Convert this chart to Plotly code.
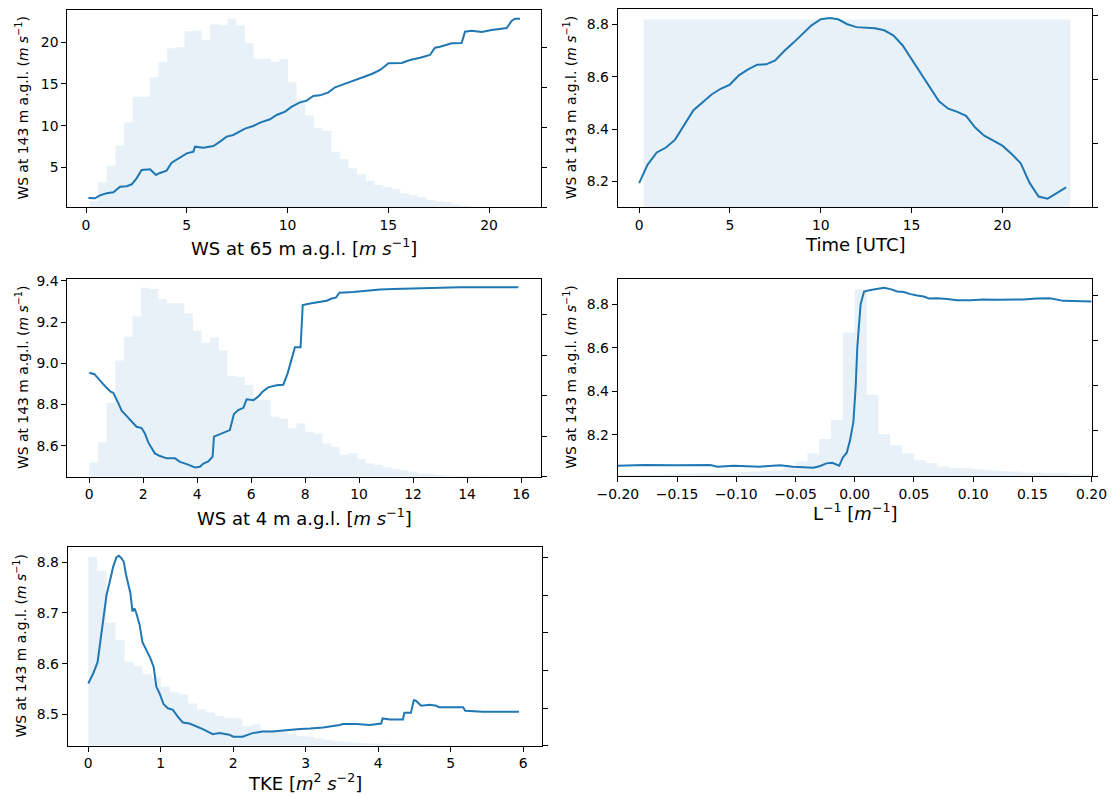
import numpy as np
import plotly.graph_objects as go

# ---------------- Panel 1: WS at 65 m a.g.l. ----------------
ws65_x = [0.12, 0.45, 0.69, 1.03, 1.36, 1.69, 2.02, 2.27, 2.51, 2.76, 3.18, 3.47, 3.67, 4.0, 4.25,
          4.66, 5.0, 5.33, 5.41, 5.82, 6.32, 6.65, 6.98, 7.31, 7.64, 7.89, 8.3, 8.64, 9.13, 9.46,
          9.88, 10.21, 10.62, 10.95, 11.28, 11.61, 12.03, 12.36, 12.77, 13.27, 13.68, 14.18, 14.6,
          15.01, 15.67, 16.08, 16.58, 17.07, 17.32, 17.57, 18.15, 18.64, 18.81, 19.14, 19.64,
          20.13, 20.88, 21.12, 21.29, 21.54]
ws65_pd = [1.32, 1.28, 1.64, 1.88, 2.0, 2.68, 2.72, 2.96, 3.68, 4.68, 4.76, 4.08, 4.32, 4.6, 5.56,
           6.12, 6.68, 6.88, 7.48, 7.36, 7.56, 8.08, 8.68, 8.88, 9.28, 9.64, 9.96, 10.36, 10.76, 11.28,
           11.68, 12.28, 12.8, 13.0, 13.56, 13.64, 14.0, 14.6, 14.96, 15.4, 15.68, 16.2, 16.68,
           17.48, 17.52, 17.88, 18.16, 18.48, 19.36, 19.48, 19.88, 19.92, 21.28, 21.4, 21.24,
           21.48, 21.72, 22.56, 22.84, 22.84]
ws65_hist_start = 0.17
ws65_hist_width = 0.4286
ws65_hist = [0.16, 0.63, 1.04, 1.54, 2.13, 2.77, 2.77, 3.25, 3.64, 3.98, 4.01, 4.41, 4.42, 4.18, 4.58,
             4.56, 4.72, 4.55, 4.11, 3.72, 3.72, 3.64, 3.71, 3.13, 2.69, 2.30, 1.98, 1.91, 1.39, 1.21,
             0.98, 0.83, 0.66, 0.56, 0.51, 0.46, 0.35, 0.31, 0.25, 0.18, 0.15, 0.13, 0.07, 0.04, 0.02,
             0.015, 0.01, 0.006, 0.004, 0.002]

# ---------------- Panel 2: Time [UTC] ----------------
time_x = [0.0, 0.46, 0.97, 1.48, 1.98, 2.47, 2.99, 3.5, 3.99, 4.49, 5.0, 5.49, 6.0, 6.5, 7.0, 7.49,
          7.99, 8.5, 9.0, 9.49, 10.0, 10.5, 10.96, 11.46, 11.97, 12.48, 12.98, 13.49, 13.99, 14.5,
          15.0, 15.5, 16.01, 16.51, 17.02, 17.52, 18.0, 18.49, 19.0, 19.5, 20.0, 20.51, 21.01,
          21.49, 21.99, 22.49, 23.0, 23.51]
time_pd = [8.194, 8.264, 8.311, 8.330, 8.360, 8.413, 8.472, 8.503, 8.532, 8.554, 8.570, 8.605, 8.628,
           8.646, 8.647, 8.662, 8.698, 8.730, 8.762, 8.796, 8.819, 8.824, 8.819, 8.800, 8.789, 8.787,
           8.785, 8.777, 8.758, 8.720, 8.666, 8.612, 8.561, 8.506, 8.478, 8.466, 8.451, 8.407, 8.375,
           8.356, 8.337, 8.305, 8.270, 8.196, 8.143, 8.135, 8.155, 8.178]
time_hist_start = 0.25
time_hist_width = 0.979
time_hist = [2.94, 2.94, 2.94, 2.94, 2.94, 2.94, 2.94, 2.94, 2.94, 2.94, 2.94, 2.94,
             2.94, 2.94, 2.94, 2.94, 2.94, 2.94, 2.94, 2.94, 2.94, 2.94, 2.94, 2.94]

# ---------------- Panel 3: WS at 4 m a.g.l. ----------------
ws4_x = [0.0, 0.19, 0.27, 0.46, 0.64, 0.79, 0.89, 1.07, 1.2, 1.38, 1.57, 1.75, 1.94, 2.06, 2.19, 2.43,
         2.62, 2.87, 3.18, 3.36, 3.61, 3.79, 3.92, 4.1, 4.23, 4.41, 4.57, 4.62, 4.82, 5.03, 5.21, 5.36,
         5.52, 5.71, 5.83, 6.08, 6.26, 6.42, 6.63, 6.94, 7.19, 7.35, 7.47, 7.62, 7.83, 7.91, 8.18,
         8.49, 8.8, 8.98, 9.14, 9.27, 9.78, 10.28, 10.77, 11.27, 12.5, 13.74, 15.9]
ws4_pd = [8.954, 8.947, 8.935, 8.905, 8.881, 8.862, 8.857, 8.808, 8.770, 8.745, 8.716, 8.692, 8.686,
          8.660, 8.615, 8.563, 8.550, 8.539, 8.539, 8.522, 8.511, 8.503, 8.495, 8.498, 8.514, 8.524,
          8.547, 8.644, 8.655, 8.663, 8.676, 8.754, 8.773, 8.784, 8.825, 8.821, 8.838, 8.862, 8.883,
          8.893, 8.896, 8.951, 9.002, 9.077, 9.077, 9.282, 9.290, 9.297, 9.303, 9.314, 9.318, 9.342,
          9.345, 9.352, 9.358, 9.360, 9.364, 9.368, 9.368]
ws4_hist_start = 0.0
ws4_hist_width = 0.32
ws4_hist = [0.35, 0.85, 1.83, 2.87, 3.46, 3.96, 4.67, 4.64, 4.39, 4.29,
            4.29, 4.04, 3.61, 3.31, 3.44, 3.12, 2.49, 2.46, 2.27, 1.90,
            1.90, 1.48, 1.44, 1.20, 1.32, 1.11, 1.07, 0.82, 0.74, 0.54,
            0.58, 0.44, 0.33, 0.29, 0.23, 0.19, 0.16, 0.12, 0.08, 0.07,
            0.05, 0.03, 0.02, 0.015, 0.01, 0.01, 0.005, 0.005, 0.003, 0.002]

# ---------------- Panel 4: inverse Obukhov length ----------------
linv_x = [-0.2, -0.178, -0.150, -0.122, -0.116, -0.102, -0.08, -0.063, -0.052, -0.04, -0.035, -0.029,
          -0.024, -0.019, -0.016, -0.013, -0.010, -0.0067, -0.0039, -0.0011, 0.0008, 0.0022, 0.005,
          0.0079, 0.0135, 0.019, 0.0247, 0.0303, 0.0359, 0.0415, 0.0471, 0.0527, 0.0583, 0.0626,
          0.0696, 0.078, 0.0864, 0.0976, 0.1088, 0.12, 0.131, 0.1425, 0.1537, 0.165, 0.176, 0.187, 0.2]
linv_pd = [8.058, 8.061, 8.060, 8.061, 8.054, 8.058, 8.054, 8.060, 8.054, 8.051, 8.049, 8.057,
           8.069, 8.072, 8.065, 8.058, 8.096, 8.118, 8.176, 8.259, 8.419, 8.602, 8.800,
           8.858, 8.865, 8.870, 8.875, 8.869, 8.858, 8.856, 8.846, 8.840, 8.835, 8.826,
           8.827, 8.824, 8.818, 8.818, 8.821, 8.820, 8.821, 8.821, 8.826, 8.827, 8.815, 8.814, 8.812]
linv_hist_start = -0.2
linv_hist_width = 0.01
linv_hist = [0.02, 0.02, 0.03, 0.03, 0.04, 0.05, 0.05, 0.06, 0.07, 0.08,
             0.09, 0.10, 0.11, 0.13, 0.20, 0.32, 0.50, 0.82, 1.24, 3.18,
             4.14, 1.80, 0.93, 0.68, 0.50, 0.35, 0.29, 0.21, 0.18, 0.17,
             0.15, 0.12, 0.11, 0.10, 0.08, 0.07, 0.06, 0.06, 0.04, 0.04]

# ---------------- Panel 5: TKE ----------------
tke_x = [0.0, 0.069, 0.128, 0.16, 0.206, 0.252, 0.297, 0.343, 0.389, 0.421, 0.458, 0.49, 0.517, 0.549,
         0.581, 0.609, 0.636, 0.664, 0.709, 0.746, 0.801, 0.856, 0.902, 0.938, 0.984, 1.039, 1.098,
         1.167, 1.236, 1.304, 1.396, 1.487, 1.579, 1.648, 1.716, 1.808, 1.945, 2.0, 2.128, 2.265,
         2.403, 2.54, 2.677, 2.769, 2.92, 3.06, 3.24, 3.47, 3.51, 3.70, 3.88, 4.04, 4.06, 4.16, 4.34,
         4.36, 4.45, 4.49, 4.52, 4.59, 4.71, 4.80, 4.84, 5.17, 5.20, 5.44, 5.53, 5.94]
tke_pd = [8.561, 8.581, 8.603, 8.637, 8.689, 8.736, 8.762, 8.791, 8.810, 8.813, 8.808, 8.801, 8.778,
          8.759, 8.739, 8.703, 8.709, 8.699, 8.676, 8.643, 8.627, 8.611, 8.593, 8.555, 8.541, 8.520,
          8.512, 8.509, 8.495, 8.484, 8.482, 8.477, 8.471, 8.466, 8.461, 8.463, 8.460, 8.456, 8.456,
          8.463, 8.466, 8.466, 8.468, 8.470, 8.471, 8.472, 8.474, 8.479, 8.481, 8.481, 8.479, 8.482,
          8.492, 8.490, 8.490, 8.503, 8.503, 8.528, 8.527, 8.517, 8.519, 8.517, 8.514, 8.514, 8.507,
          8.505, 8.505, 8.505]
tke_hist_start = 0.0
tke_hist_width = 0.125
tke_hist = [5.02, 4.65, 3.27, 2.81, 2.23, 2.12, 1.90, 1.81, 1.57, 1.42,
            1.36, 1.12, 0.97, 0.88, 0.79, 0.74, 0.73, 0.52, 0.57, 0.42,
            0.39, 0.37, 0.31, 0.26, 0.24, 0.19, 0.15, 0.12, 0.10, 0.08,
            0.07, 0.06, 0.05, 0.045, 0.04, 0.035, 0.03, 0.025, 0.02, 0.018,
            0.015, 0.012, 0.01, 0.008, 0.006, 0.005, 0.004, 0.003]

YLAB = "WS at 143 m a.g.l. (<i>m s</i><sup>−1</sup>)"
x_titles = ["WS at 65 m a.g.l. [<i>m s</i><sup>−1</sup>]",
            "Time [UTC]",
            "WS at 4 m a.g.l. [<i>m s</i><sup>−1</sup>]",
            "L<sup>−1</sup> [<i>m</i><sup>−1</sup>]",
            "TKE [<i>m</i><sup>2</sup> <i>s</i><sup>−2</sup>]"]

W, H = 1113, 797
FONT = "DejaVu Sans"
BLUE = "#1f77b4"
HISTC = "rgba(31,119,180,0.1)"

panels = [
    dict(x=ws65_x, y=ws65_pd, hs=ws65_hist_start, hw=ws65_hist_width, h=ws65_hist,
         box=(67.3, 541.0, 10.0, 207.3), xr=[-0.928, 22.58], yr=[0.2, 23.88],
         xt=[0, 5, 10, 15, 20], yt=[5, 10, 15, 20], ytxt=["5", "10", "15", "20"], xfmt=None,
         hr=4.94, xtit=(304, 247), ytit=(22, 108.6)),
    dict(x=time_x, y=time_pd, hs=time_hist_start, hw=time_hist_width, h=time_hist,
         box=(617.7, 1092.3, 9.3, 207.3), xr=[-1.18, 24.95], yr=[8.102, 8.857],
         xt=[0, 5, 10, 15, 20], yt=[8.2, 8.4, 8.6, 8.8], ytxt=["8.2", "8.4", "8.6", "8.8"], xfmt=None,
         hr=3.10, xtit=(855, 244), ytit=(570, 108.3)),
    dict(x=ws4_x, y=ws4_pd, hs=ws4_hist_start, hw=ws4_hist_width, h=ws4_hist,
         box=(67.3, 541.0, 279.3, 476.7), xr=[-0.815, 16.74], yr=[8.45, 9.407],
         xt=[0, 2, 4, 6, 8, 10, 12, 14, 16], yt=[8.6, 8.8, 9.0, 9.2, 9.4],
         ytxt=["8.6", "8.8", "9.0", "9.2", "9.4"], xfmt=None,
         hr=4.88, xtit=(304, 517), ytit=(22, 378)),
    dict(x=linv_x, y=linv_pd, hs=linv_hist_start, hw=linv_hist_width, h=linv_hist,
         box=(617.7, 1091.7, 279.3, 476.0), xr=[-0.2001, 0.2001], yr=[8.011, 8.914],
         xt=[-0.2, -0.15, -0.1, -0.05, 0.0, 0.05, 0.1, 0.15, 0.2], yt=[8.2, 8.4, 8.6, 8.8],
         ytxt=["8.2", "8.4", "8.6", "8.8"], xfmt=".2f",
         hr=4.36, xtit=(855, 512), ytit=(570, 377.7)),
    dict(x=tke_x, y=tke_pd, hs=tke_hist_start, hw=tke_hist_width, h=tke_hist,
         box=(67.7, 541.7, 547.3, 745.7), xr=[-0.284, 6.254], yr=[8.4382, 8.8296],
         xt=[0, 1, 2, 3, 4, 5, 6], yt=[8.5, 8.6, 8.7, 8.8], ytxt=["8.5", "8.6", "8.7", "8.8"], xfmt=None,
         hr=5.27, xtit=(305, 782), ytit=(20, 646.5)),
]

fig = go.Figure()
layout = dict(width=W, height=H, margin=dict(l=0, r=0, t=0, b=0, autoexpand=False),
              paper_bgcolor="white", plot_bgcolor="white", showlegend=False,
              font=dict(family=FONT, size=14, color="black"), annotations=[])

axis_common = dict(showgrid=False, zeroline=False, showline=True, linecolor="black", linewidth=1,
                   ticks="outside", ticklen=5, tickwidth=1, tickcolor="black", automargin=False,
                   tickfont=dict(family=FONT, size=13.9, color="black"))

for i, p in enumerate(panels, start=1):
    xa = "x" if i == 1 else f"x{i}"
    ya = "y" if i == 1 else f"y{i}"
    yl = f"y{i + 5}"
    edges = p["hs"] + p["hw"] * np.arange(len(p["h"]) + 1)
    centers = 0.5 * (edges[:-1] + edges[1:])
    fig.add_trace(go.Bar(x=centers, y=p["h"], width=p["hw"], xaxis=xa, yaxis=ya,
                         marker=dict(color=HISTC, line=dict(width=0)), hoverinfo="skip"))
    fig.add_trace(go.Scatter(x=p["x"], y=p["y"], xaxis=xa, yaxis=yl, mode="lines",
                             line=dict(color=BLUE, width=2)))
    l, r, t, b = p["box"]
    xdom = [l / W, r / W]
    ydom = [1 - b / H, 1 - t / H]
    xkey = "xaxis" if i == 1 else f"xaxis{i}"
    ykey = "yaxis" if i == 1 else f"yaxis{i}"
    xax = dict(axis_common, domain=xdom, anchor=ya, range=p["xr"], tickvals=p["xt"], mirror=True)
    if p["xfmt"]:
        xax["tickformat"] = p["xfmt"]
    layout[xkey] = xax
    layout[ykey] = dict(axis_common, domain=ydom, anchor=xa, side="right", range=[0, p["hr"]],
                        tickmode="linear", tick0=0, dtick=1, showticklabels=False)
    layout[f"yaxis{i + 5}"] = dict(axis_common, overlaying=ya, anchor=xa, side="left",
                                   range=p["yr"], tickvals=p["yt"], ticktext=p["ytxt"])
    tx, ty = p["xtit"]
    layout["annotations"].append(dict(text=x_titles[i - 1], x=tx / W, y=1 - ty / H, xref="paper",
                                      yref="paper", showarrow=False, xanchor="center", yanchor="middle",
                                      font=dict(family=FONT, size=18, color="black")))
    yx, yy = p["ytit"]
    layout["annotations"].append(dict(text=YLAB, x=yx / W, y=1 - yy / H, xref="paper", yref="paper",
                                      showarrow=False, xanchor="center", yanchor="middle", textangle=-90,
                                      font=dict(family=FONT, size=13.9, color="black")))

fig.update_layout(**layout)
fig.write_html("out.html", config={"displayModeBar": False},
               post_script="document.body.style.margin='0';document.body.style.overflow='hidden';")
